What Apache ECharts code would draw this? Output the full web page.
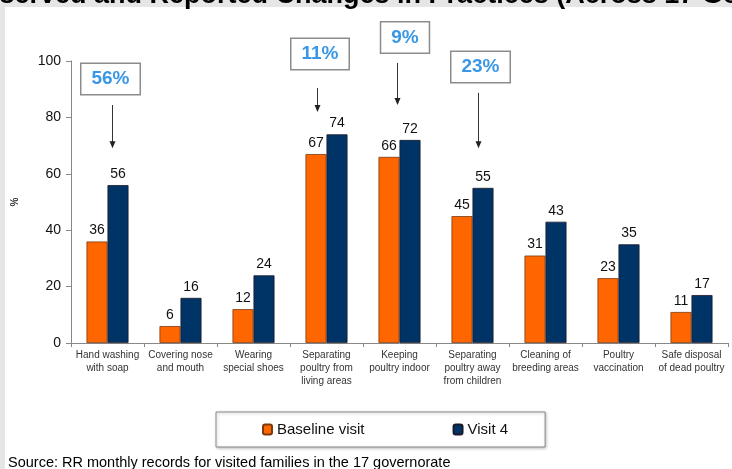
<!DOCTYPE html>
<html>
<head>
    <meta http-equiv="Content-type" content="text/html; charset=utf-8">
    <title>Changes in Practices</title>
    <script src="https://cdn.jsdelivr.net/npm/echarts@6/dist/echarts.min.js"></script>
    <style>
        html, body { margin: 0; padding: 0; background: #e6e6e6; }
        #container { width: 732px; height: 469px; }
    </style>
</head>
<body>
<div id="container"></div>
<script type="text/javascript">
// data
var categories = ['Hand washing\nwith soap', 'Covering nose\nand mouth', 'Wearing\nspecial shoes',
    'Separating\npoultry from\nliving areas', 'Keeping\npoultry indoor', 'Separating\npoultry away\nfrom children',
    'Cleaning of\nbreeding areas', 'Poultry\nvaccination', 'Safe disposal\nof dead poultry'];
var baseline = [36, 6, 12, 67, 66, 45, 31, 23, 11];
var visit4 = [56, 16, 24, 74, 72, 55, 43, 35, 17];
var yTicks = [0, 20, 40, 60, 80, 100];
var changeCats = [0, 3, 4, 5];
var changeLabels = ['56%', '11%', '9%', '23%'];

// where the call-out boxes and arrows sit (in axis units / pixel nudges)
var notes = [
    { boxY: 93.6, dx: 3, arrowDx: 4.5, from: 84.4, to: 69.1 },
    { boxY: 102.5, dx: -6.5, arrowDx: -9.5, from: 90.4, to: 81.9 },
    { boxY: 108.3, dx: 5.5, arrowDx: -2.5, from: 99.3, to: 84.4 },
    { boxY: 97.9, dx: 8, arrowDx: 5.5, from: 88.7, to: 69.1 }
];

var dom = document.getElementById('container');
var myChart = echarts.init(dom);

var labelStyle = { show: true, position: 'top', distance: 4, color: '#111', fontSize: 14, fontFamily: 'Arial' };

option = {
    backgroundColor: '#e6e6e6',
    animation: false,
    grid: { left: 71, right: 4, top: 61, bottom: 126 },
    legend: {
        left: 216, top: 412,
        padding: [10, 37, 10, 46],
        itemGap: 88,
        itemWidth: 9, itemHeight: 10,
        backgroundColor: '#fff',
        borderColor: '#8a8a8a', borderWidth: 1,
        shadowColor: 'rgba(0,0,0,0.25)', shadowBlur: 3, shadowOffsetX: 1, shadowOffsetY: 1,
        textStyle: { fontSize: 15, fontFamily: 'Arial', color: '#111' },
        data: ['Baseline visit', 'Visit 4']
    },
    xAxis: {
        type: 'category',
        data: categories,
        axisLine: { lineStyle: { color: '#888' } },
        axisTick: { show: true, length: 4, lineStyle: { color: '#888' } },
        axisLabel: { interval: 0, fontSize: 10, fontFamily: 'Arial', color: '#333', lineHeight: 13, margin: 6 }
    },
    yAxis: {
        type: 'value',
        min: yTicks[0], max: yTicks[yTicks.length - 1], interval: 20,
        name: '%', nameLocation: 'middle', nameRotate: 90, nameGap: 51,
        nameTextStyle: { fontSize: 10, fontWeight: 'bold', fontFamily: 'Arial', color: '#333' },
        axisLine: { show: true, lineStyle: { color: '#888' } },
        axisTick: { show: true, length: 5, lineStyle: { color: '#888' } },
        axisLabel: { fontSize: 14, fontFamily: 'Arial', color: '#111', margin: 10 },
        splitLine: { show: false }
    },
    series: [
        {
            name: 'Baseline visit', type: 'bar', data: baseline,
            barWidth: 21, barGap: '0%',
            itemStyle: { color: '#ff6600', borderColor: '#7a3a10', borderWidth: 0.8 },
            label: labelStyle
        },
        {
            name: 'Visit 4', type: 'bar', data: visit4,
            barWidth: 21,
            itemStyle: { color: '#003366', borderColor: '#1a1a2a', borderWidth: 0.8 },
            label: labelStyle
        }
    ]
};
myChart.setOption(option, true);

// panel, title strip, source line and the call-outs
var g = [
    { type: 'rect', z: -10, shape: { x: 5, y: 7, width: 740, height: 480 }, style: { fill: '#fff' } },
    { type: 'text', z: 10, x: -38, y: -4.5, style: {
        text: 'Observed and Reported Changes in Practices (Across 17 Governorates)',
        font: 'bold 27px Arial', fill: '#000', verticalAlign: 'middle' } },
    { type: 'text', x: 8, y: 463, style: {
        text: 'Source: RR monthly records for visited families in the 17 governorate',
        font: '14.5px Arial', fill: '#000', verticalAlign: 'middle' } }
];
changeCats.forEach(function (c, i) {
    var n = notes[i];
    var box = myChart.convertToPixel({ gridIndex: 0 }, [c, n.boxY]);
    var a = myChart.convertToPixel({ gridIndex: 0 }, [c, n.from]);
    var b = myChart.convertToPixel({ gridIndex: 0 }, [c, n.to]);
    var ax = Math.round(a[0] + n.arrowDx) + 0.5;
    g.push({ type: 'text', z: 20, x: box[0] + n.dx, y: box[1], style: {
        text: changeLabels[i], font: 'bold 19px Arial', fill: '#3a97e6',
        align: 'center', verticalAlign: 'middle',
        padding: [6, 10, 5, 10], backgroundColor: '#fff', borderColor: '#8c8c8c', borderWidth: 1.5 } });
    g.push({ type: 'line', z: 20, shape: { x1: ax, y1: a[1], x2: ax, y2: b[1] - 6 },
        style: { stroke: '#333', lineWidth: 1 } });
    g.push({ type: 'polygon', z: 20, shape: { points: [[ax - 3, b[1] - 7], [ax + 3, b[1] - 7], [ax, b[1]]] },
        style: { fill: '#222' } });
});
myChart.setOption({ graphic: g });
</script>
</body>
</html>
